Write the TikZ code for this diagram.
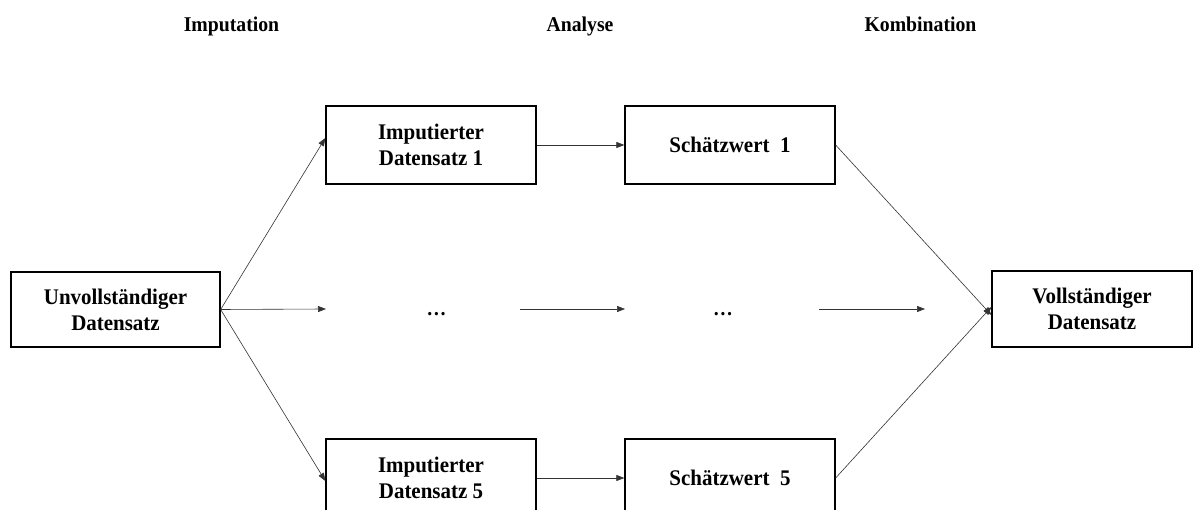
\documentclass[tikz,border=0pt]{standalone}
\usepackage{fontspec}
\setmainfont{Liberation Serif}
\newfontfamily\narrowserif[FakeStretch=0.94]{Liberation Serif}
\usetikzlibrary{arrows.meta}
\begin{document}
\begin{tikzpicture}[x=1pt,y=-1pt,
  box/.style={draw=black,line width=1.3pt,minimum width=210pt,minimum height=78pt,
    inner sep=0pt,align=center,font=\narrowserif\fontsize{22.3}{26}\selectfont\bfseries},
  head/.style={inner sep=0pt,anchor=base,font=\narrowserif\fontsize{21}{24}\selectfont\bfseries},
  dotsnode/.style={inner sep=0pt,anchor=base,font=\narrowserif\fontsize{21}{24}\selectfont\bfseries},
  link/.style={draw=black!80,line width=0.6pt,-{Triangle[length=8pt,width=6pt]}}]
\useasboundingbox (0,0) rectangle (1195,510);
\clip (0,0) rectangle (1195,510);
\fill[white] (0,0) rectangle (1195,510);

% column headings
\node[head] (hImp) at (231.5,31.5) {Imputation};
\node[head] (hAna) at (580,31.5) {Analyse};
\node[head] (hKom) at (920.5,31.5) {Kombination};

% boxes
\node[box,minimum width=209pt,minimum height=75pt] (U) at (115.5,309.5) {Unvollständiger\\Datensatz};
\node[box] (I1) at (431,145) {Imputierter\\Datensatz 1};
\node[box] (S1) at (730,145) {Schätzwert\ \ 1};
\node[box] (I5) at (431,478) {Imputierter\\Datensatz 5};
\node[box] (S5) at (730,478) {Schätzwert\ \ 5};
\node[box,minimum width=200pt,minimum height=76pt] (V) at (1092,309) {Vollständiger\\Datensatz};

% ellipsis row
\node[dotsnode] (d1) at (436.5,316) {…};
\node[dotsnode] (d2) at (723,316) {…};
\coordinate (m0) at (326,309);
\coordinate (m1a) at (520,309);
\coordinate (m1b) at (625,309);
\coordinate (m2a) at (819,309);
\coordinate (m2b) at (925,309);

% connectors
\draw[link] (U.east) -- ([yshift=7pt]I1.west);
\draw[link] (U.east) -- (m0);
\draw[link] (U.east) -- ([yshift=-3pt]I5.west);
\draw[link] (I1) -- (S1);
\draw[link] (I5.east) -- (S5.west);
\draw[link] (m1a) -- (m1b);
\draw[link] (m2a) -- (m2b);
\draw[link] (S1.east) -- ([yshift=-6pt]V.west);
\draw[link] (S5.east) -- ([yshift=2pt]V.west);
\end{tikzpicture}
\end{document}
